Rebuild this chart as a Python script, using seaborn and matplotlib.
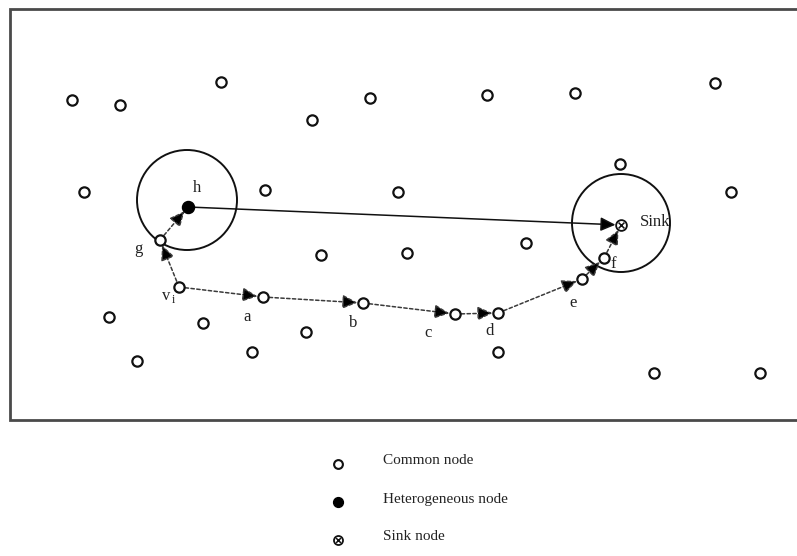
import numpy as np
import pandas as pd
import matplotlib.pyplot as plt
import seaborn as sns
from matplotlib.patches import Circle

# node positions (pixel-like coordinates, y grows downward)
common_x = [72, 120, 221, 312, 370, 487, 575, 715,
            84, 265, 398, 620, 731,
            160, 321, 407, 526, 604, 582,
            179, 263, 363, 455, 498,
            109, 203, 306, 252, 137, 498, 654, 760]
common_y = [100, 105, 82, 120, 98, 95, 93, 83,
            192, 190, 192, 164, 192,
            240, 255, 253, 243, 258, 279,
            287, 297, 303, 314, 313,
            317, 323, 332, 352, 361, 352, 373, 373]
hetero_xy = (188, 207)
sink_xy = (621, 225)

# routing path (dashed) and labels
path_names = ['vi', 'a', 'b', 'c', 'd', 'e', 'f', 'Sink']
path_x = [179, 263, 363, 455, 498, 582, 604, 621]
path_y = [287, 297, 303, 314, 313, 279, 258, 225]
detour_names = ['vi', 'g', 'h']
detour_x = [179, 160, 188]
detour_y = [287, 240, 207]

label_text = ['h', 'g', 'a', 'b', 'c', 'd', 'e', 'f', 'Sink']
label_x = [197, 138, 247, 353, 428, 490, 573, 613, 640]
label_y = [188, 249, 317, 323, 333, 331, 303, 264, 222]

legend_labels = ['Common node', 'Heterogeneous node', 'Sink node']

sns.set_style("white")
plt.rcParams['font.family'] = ['Liberation Serif', 'DejaVu Serif']

fig = plt.figure(figsize=(7.97, 5.56), dpi=100)
ax = fig.add_axes([0, 0, 1, 1])
ax.set_xlim(0, 797)
ax.set_ylim(556, 0)
ax.axis('off')

# frame (right side runs off the image)
ax.plot([800, 10, 10, 800], [9, 9, 420, 420], color='#4a4a4a', lw=2.0,
        solid_joinstyle='miter', clip_on=False)

# communication ranges
ax.add_patch(Circle((187, 200), 50, fill=False, ec='#111111', lw=1.4))
ax.add_patch(Circle((621, 223), 49, fill=False, ec='#111111', lw=1.4))

def arrow(p0, p1, dashed=True):
    ax.annotate('', xy=p1, xytext=p0,
                arrowprops=dict(arrowstyle='-|>,head_length=0.75,head_width=0.35',
                                mutation_scale=12,
                                color='#111111' if not dashed else '#3a3a3a',
                                lw=1.1, linestyle=(0, (2.2, 1.6)) if dashed else '-',
                                shrinkA=4.5, shrinkB=4.0, fc='black'))

for i in range(len(path_x) - 1):
    arrow((path_x[i], path_y[i]), (path_x[i + 1], path_y[i + 1]))
for i in range(len(detour_x) - 1):
    arrow((detour_x[i], detour_y[i]), (detour_x[i + 1], detour_y[i + 1]))
arrow(hetero_xy, sink_xy, dashed=False)

nodes = pd.DataFrame({'x': common_x, 'y': common_y})
sns.scatterplot(data=nodes, x='x', y='y', ax=ax, marker='o', s=55,
                facecolor='white', edgecolor='#111111', linewidth=1.6, zorder=5)
ax.scatter([hetero_xy[0]], [hetero_xy[1]], s=75, color='black', zorder=6)
ax.scatter([sink_xy[0]], [sink_xy[1]], s=60, facecolor='white',
           edgecolor='#111111', linewidth=1.3, zorder=6)
ax.scatter([sink_xy[0]], [sink_xy[1]], s=18, marker='x', color='#111111',
           linewidth=1.1, zorder=7)

for t, x, y in zip(label_text, label_x, label_y):
    ax.text(x, y, t, fontsize=12, ha='left' if t == 'Sink' else 'center',
            va='center', color='#222222')
ax.text(166, 296, r'v', fontsize=12, ha='center', va='center', color='#222222')
ax.text(173, 300, 'i', fontsize=8.5, ha='center', va='center', color='#222222')

# legend
leg_y = [464, 502, 540]
ax.scatter([338], [leg_y[0]], s=40, facecolor='white', edgecolor='#111111', linewidth=1.5)
ax.scatter([338], [leg_y[1]], s=50, color='black')
ax.scatter([338], [leg_y[2]], s=42, facecolor='white', edgecolor='#111111', linewidth=1.3)
ax.scatter([338], [leg_y[2]], s=12, marker='x', color='#111111', linewidth=1.1)
for lab, y in zip(legend_labels, leg_y):
    ax.text(383, y - 3, lab, fontsize=11, ha='left', va='center', color='#222222')

plt.savefig('out.png', dpi=100)
plt.close()
